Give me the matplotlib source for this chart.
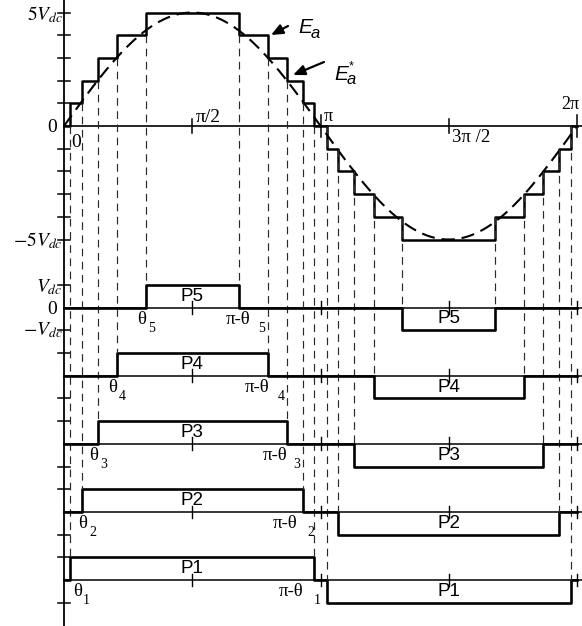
import numpy as np
import matplotlib.pyplot as plt

plt.rcParams['mathtext.fontset'] = 'stix'
plt.rcParams['lines.scale_dashes'] = False

# switching angles theta_1..theta_5 (rad)
theta = np.array([0.074, 0.22, 0.416, 0.649, 1.004])
amplitude = 5  # peak of the reference sine E_a, in Vdc
pulse_names = ['P1', 'P2', 'P3', 'P4', 'P5']
# zero line of each pulse row, in Vdc units on the common left axis
baselines = [-20, -17, -14, -11, -8]
axis_ticks = [5, 4, 3, 2, 1, -1, -2, -3, -4, -5, -7, -9, -10,
              -12, -13, -15, -16, -18, -19, -21]
x_ticks = [np.pi / 2, np.pi, 3 * np.pi / 2, 2 * np.pi]

PI = np.pi
SERIF = ['Liberation Serif', 'DejaVu Serif']
SANS = ['Liberation Sans', 'DejaVu Sans']

# pixel -> data helpers, only for placing the labels
X0, SX = 64, 81.65
Y0, SY = 126, 22.7


def px(x, y):
    return ((x - X0) / SX, (Y0 - y) / SY)


def pulse(t, th):
    pos = (t > th) & (t < PI - th)
    neg = (t > PI + th) & (t < 2 * PI - th)
    return pos.astype(int) - neg.astype(int)


fig = plt.figure(figsize=(5.82, 6.26), dpi=100)
ax = fig.add_axes([0, 0, 1, 1])
ax.set_xlim(-X0 / SX, (582 - X0) / SX)
ax.set_ylim((Y0 - 626) / SY, Y0 / SY)
ax.axis('off')

dash_v = dict(color='#2a2a2a', lw=0.85, ls=(0, (5.5, 4)))

# left axis with ticks
ax.plot([0, 0], [5.6, -22.2], color='k', lw=1.3)
for v in axis_ticks:
    ax.plot([-0.075, 0.075], [v, v], color='k', lw=1.1)

# main zero line and its ticks
ax.plot([0, 6.34], [0, 0], color='k', lw=1.2)
for xt in x_ticks:
    h = 0.5 if xt in (PI, 2 * PI) else 0.3
    ax.plot([xt, xt], [-h, h], color='k', lw=1.1)

# staircase output built from the five pulses
edges = np.sort(np.concatenate([[0], theta, PI - theta, PI + theta,
                                2 * PI - theta, [2 * PI]]))
mids = (edges[:-1] + edges[1:]) / 2
stair = sum(pulse(mids, th) for th in theta)
ax.step(edges, np.append(stair, stair[-1]), where='post', color='k', lw=1.8)

# reference sine
t = np.linspace(0, 2 * PI, 600)
ax.plot(t, amplitude * np.sin(t), color='k', lw=1.5, ls=(0, (9.5, 5)))

# pulse rows
for k, (name, th, b) in enumerate(zip(pulse_names, theta, baselines)):
    ax.plot([0, 6.34], [b, b], color='k', lw=1.1)
    for xt in x_ticks:
        ax.plot([xt, xt], [b - 0.28, b + 0.28], color='k', lw=1.0)
    pe = np.array([0, th, PI - th, PI + th, 2 * PI - th, 2 * PI])
    pv = np.array([0, 1, 0, -1, 0, 0])
    ax.step(pe, b + pv, where='post', color='k', lw=1.9)
    ax.text(PI / 2, b + 0.5, name, family=SANS, fontsize=13.5,
            ha='center', va='center')
    ax.text(3 * PI / 2, b - 0.5, name, family=SANS, fontsize=13.5,
            ha='center', va='center')
    # dashed projections from the staircase down to the pulse edges
    lvl = k
    ax.plot([th, th], [lvl, b + 1], **dash_v)
    ax.plot([PI - th, PI - th], [lvl, b + 1], **dash_v)
    ax.plot([PI + th, PI + th], [-lvl, b], **dash_v)
    ax.plot([2 * PI - th, 2 * PI - th], [-lvl, b], **dash_v)

# theta labels under each row
th_right = [82, 87, 98, 117, 146]
th_sub = [83, 89, 100, 119, 148]
pt_right = [303, 297, 287, 269, 250]
pt_sub = [314, 307, 293, 278, 258]
for k, b in enumerate(baselines):
    yb = Y0 - b * SY
    ax.text(*px(th_right[k], yb + 12), 'θ', family=SERIF, fontsize=13.5,
            ha='right', va='center')
    ax.text(*px(th_sub[k], yb + 21), str(k + 1), family=SERIF, fontsize=10,
            ha='left', va='center')
    ax.text(*px(pt_right[k], yb + 12), 'π-θ', family=SERIF, fontsize=13.5,
            ha='right', va='center')
    ax.text(*px(pt_sub[k], yb + 21), str(k + 1), family=SERIF, fontsize=10,
            ha='left', va='center')

# axis labels
ax.text(*px(63, 15), r'$5V_{dc}$', fontsize=14, ha='right', va='center')
ax.text(*px(63, 241), r'$-5V_{dc}$', fontsize=14, ha='right', va='center')
ax.text(*px(63, 287), r'$V_{dc}$', fontsize=14, ha='right', va='center')
ax.text(*px(63, 330), r'$-V_{dc}$', fontsize=14, ha='right', va='center')
ax.text(*px(52, 127), '0', family=SERIF, fontsize=14, ha='center', va='center')
ax.text(*px(52, 310), '0', family=SERIF, fontsize=14, ha='center', va='center')
ax.text(*px(76, 142), '0', family=SERIF, fontsize=14, ha='center', va='center')
ax.text(*px(196, 117), 'π/2', family=SERIF, fontsize=14, ha='left', va='center')
ax.text(*px(324, 116), 'π', family=SERIF, fontsize=13, ha='left', va='center')
ax.text(*px(452, 137), '3π /2', family=SERIF, fontsize=13.5, ha='left', va='center')
ax.text(*px(561, 104), '2π', family=SERIF, fontsize=13, ha='left', va='center')

# E_a and E_a* callouts
ax.text(*px(298, 27), 'E', family=SANS, style='italic', fontsize=15,
        ha='left', va='center')
ax.text(*px(311, 33), 'a', family=SANS, style='italic', fontsize=12,
        ha='left', va='center')
ax.text(*px(334, 74), 'E', family=SANS, style='italic', fontsize=15,
        ha='left', va='center')
ax.text(*px(347, 79), 'a', family=SANS, style='italic', fontsize=12,
        ha='left', va='center')
ax.text(*px(349, 66), '*', family=SANS, fontsize=9, ha='left', va='center')

arrow = dict(arrowstyle='-|>,head_length=0.7,head_width=0.3', lw=1.6,
             color='k', shrinkA=0, shrinkB=0)
ax.annotate('', xy=px(271, 35), xytext=px(288, 26), arrowprops=arrow)
ax.annotate('', xy=px(293, 75), xytext=px(324, 62), arrowprops=arrow)

plt.savefig('out.png', dpi=100)
